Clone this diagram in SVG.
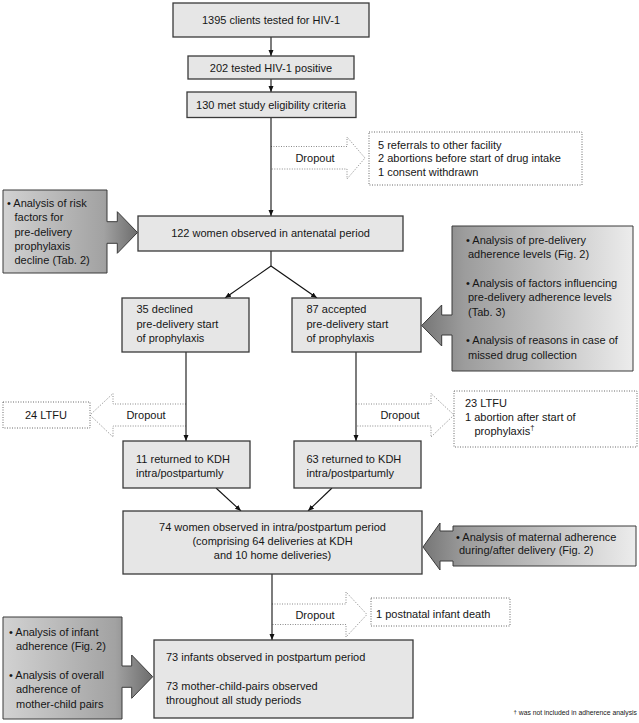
<svg xmlns="http://www.w3.org/2000/svg" width="639" height="723" viewBox="0 0 639 723">
<defs>
<style>
text{font-family:"Liberation Sans",Arial,sans-serif;font-size:11px;fill:#161616}
.box{fill:#e6e6e6;stroke:#3a3a3a;stroke-width:1.3}
.dot{fill:#fff;stroke:#6a6a6a;stroke-width:1;stroke-dasharray:1 1.5}
.darr{fill:#fff;stroke:#8a8a8a;stroke-width:1;stroke-dasharray:1 1.5}
.call{stroke:#3a3a3a;stroke-width:1}
.con{fill:none;stroke:#111;stroke-width:1.1;marker-end:url(#ah)}
.c{text-anchor:middle}
.fn{font-size:6.8px}
</style>
<marker id="ah" markerUnits="userSpaceOnUse" markerWidth="6" markerHeight="6" refX="6" refY="2.5" orient="auto">
<path d="M0,0 L6,2.5 L0,5 z" fill="#111"/>
</marker>
<linearGradient id="gl" x1="0" y1="0" x2="1" y2="0">
<stop offset="0" stop-color="#d2d2d2"/>
<stop offset="0.75" stop-color="#a2a2a2"/>
<stop offset="1" stop-color="#6c6c6c"/>
</linearGradient>
<linearGradient id="gr" x1="0" y1="0" x2="1" y2="0">
<stop offset="0" stop-color="#767676"/>
<stop offset="0.2" stop-color="#9c9c9c"/>
<stop offset="1" stop-color="#ececec"/>
</linearGradient>
</defs>

<g id="dropouts">
<g id="drop1">
<path class="darr" d="M271,146.5 H347 V137 L365,158 L347,179 V169 H271"/>
<text class="c" x="315" y="162">Dropout</text>
</g>
<g id="drop2">
<path class="darr" d="M186,404 H113 V393.5 L90,415 L113,437 V426 H186"/>
<text class="c" x="146" y="419">Dropout</text>
</g>
<g id="drop3">
<path class="darr" d="M356,404 H431 V393.5 L454,415 L431,437 V426 H356"/>
<text class="c" x="400" y="419">Dropout</text>
</g>
<g id="drop4">
<path class="darr" d="M272,604 H346 V592 L367,614.5 L346,637 V624.5 H272"/>
<text class="c" x="315" y="618.5">Dropout</text>
</g>
</g>

<g id="connectors">
<line class="con" x1="271" y1="37" x2="271" y2="56"/>
<line class="con" x1="271" y1="79" x2="271" y2="92"/>
<line class="con" x1="271" y1="117.5" x2="271" y2="216"/>
<polyline fill="none" stroke="#111" stroke-width="1.1" points="271,251 271,266"/>
<line class="con" x1="271" y1="266" x2="225" y2="298"/>
<line class="con" x1="271" y1="266" x2="317" y2="298"/>
<line class="con" x1="186" y1="352" x2="186" y2="441"/>
<line class="con" x1="356" y1="352" x2="356" y2="441"/>
<line class="con" x1="216" y1="488" x2="241" y2="511"/>
<line class="con" x1="332" y1="488" x2="308" y2="511"/>
<line class="con" x1="272" y1="574" x2="272" y2="640"/>
</g>

<g id="n1395">
<rect class="box" x="173" y="3" width="196" height="34"/>
<text class="c" x="271" y="24">1395 clients tested for HIV-1</text>
</g>
<g id="n202">
<rect class="box" x="188" y="56" width="166" height="23"/>
<text class="c" x="271" y="71.5">202 tested HIV-1 positive</text>
</g>
<g id="n130">
<rect class="box" x="187" y="92" width="169" height="25.5"/>
<text class="c" x="271" y="108.5">130 met study eligibility criteria</text>
</g>
<g id="excl1">
<rect class="dot" x="369" y="132" width="213" height="53"/>
<text x="378" y="148.5">5 referrals to other facility</text>
<text x="378" y="162">2 abortions before start of drug intake</text>
<text x="378" y="175.5">1 consent withdrawn</text>
</g>
<g id="n122">
<rect class="box" x="138" y="216" width="265" height="35"/>
<text class="c" x="270.5" y="237">122 women observed in antenatal period</text>
</g>
<g id="callout1">
<path class="call" fill="url(#gl)" d="M3,190 H107 V221.7 H117.3 V211.7 L137.5,232.5 L117.3,253.3 V243.3 H107 V273 H3 Z"/>
<text x="7" y="206.5">• Analysis of risk</text>
<text x="14.5" y="221">factors for</text>
<text x="14.5" y="235.5">pre-delivery</text>
<text x="14.5" y="249.8">prophylaxis</text>
<text x="14.5" y="264.3">decline (Tab. 2)</text>
</g>
<g id="n35">
<rect class="box" x="122" y="298" width="127" height="54"/>
<text x="136.5" y="313">35 declined</text>
<text x="136.5" y="327.5">pre-delivery start</text>
<text x="136.5" y="342">of prophylaxis</text>
</g>
<g id="n87">
<rect class="box" x="292" y="298" width="129" height="54"/>
<text x="306.5" y="313">87 accepted</text>
<text x="306.5" y="327.5">pre-delivery start</text>
<text x="306.5" y="342">of prophylaxis</text>
</g>
<g id="callout2">
<path class="call" fill="url(#gr)" d="M452,226 H633 V371 H452 V335 H441.7 V346 L421.7,325.5 L441.7,305 V315 H452 Z"/>
<text x="466" y="244">• Analysis of pre-delivery</text>
<text x="468" y="258.3">adherence levels (Fig. 2)</text>
<text x="466" y="287">• Analysis of factors influencing</text>
<text x="468" y="301.3">pre-delivery adherence levels</text>
<text x="468" y="315.6">(Tab. 3)</text>
<text x="466" y="344.3">• Analysis of reasons in case of</text>
<text x="468" y="358.6">missed drug collection</text>
</g>
<g id="excl2">
<rect class="dot" x="3" y="402" width="87" height="26"/>
<text class="c" x="46" y="419">24 LTFU</text>
</g>
<g id="excl3">
<rect class="dot" x="454" y="391" width="183" height="56"/>
<text x="465" y="407">23 LTFU</text>
<text x="465" y="420.5">1 abortion after start of</text>
<text x="474.5" y="434.5">prophylaxis<tspan font-size="7.5" dy="-4.5">†</tspan></text>
</g>
<g id="n11">
<rect class="box" x="123" y="441" width="127" height="47"/>
<text x="136" y="463">11 returned to KDH</text>
<text x="136" y="477">intra/postpartumly</text>
</g>
<g id="n63">
<rect class="box" x="294" y="441" width="127" height="47"/>
<text x="306.5" y="463">63 returned to KDH</text>
<text x="306.5" y="477">intra/postpartumly</text>
</g>
<g id="n74">
<rect class="box" x="123" y="511" width="299" height="63"/>
<text class="c" x="272.5" y="531">74 women observed in intra/postpartum period</text>
<text class="c" x="272.5" y="545">(comprising 64 deliveries at KDH</text>
<text class="c" x="272.5" y="559">and 10 home deliveries)</text>
</g>
<g id="callout3">
<path class="call" fill="url(#gr)" d="M453,526 H636 V566 H453 V561 H440 V570 L423,547 L440,523 V531 H453 Z"/>
<text x="456" y="540.5">• Analysis of maternal adherence</text>
<text x="459" y="554">during/after delivery (Fig. 2)</text>
</g>
<g id="excl4">
<rect class="dot" x="371" y="598" width="139" height="28"/>
<text x="376" y="618">1 postnatal infant death</text>
</g>
<g id="callout4">
<path class="call" fill="url(#gl)" d="M3,617 H122 V666 H131.7 V655 L152.7,676.7 L131.7,698.3 V687.3 H122 V719 H3 Z"/>
<text x="9" y="635.5">• Analysis of infant</text>
<text x="16" y="649.8">adherence (Fig. 2)</text>
<text x="9" y="678.8">• Analysis of overall</text>
<text x="16" y="693.1">adherence of</text>
<text x="16" y="707.5">mother-child pairs</text>
</g>
<g id="n73">
<rect class="box" x="154" y="640" width="259" height="78"/>
<text x="166" y="661">73 infants observed in postpartum period</text>
<text x="166" y="689.5">73 mother-child-pairs observed</text>
<text x="166" y="704">throughout all study periods</text>
</g>
<g id="footnote">
<text class="fn" x="637" y="715" text-anchor="end"><tspan font-size="6" dy="-1.5">†</tspan><tspan dy="1.5"> was not included in adherence analysis</tspan></text>
</g>
</svg>
